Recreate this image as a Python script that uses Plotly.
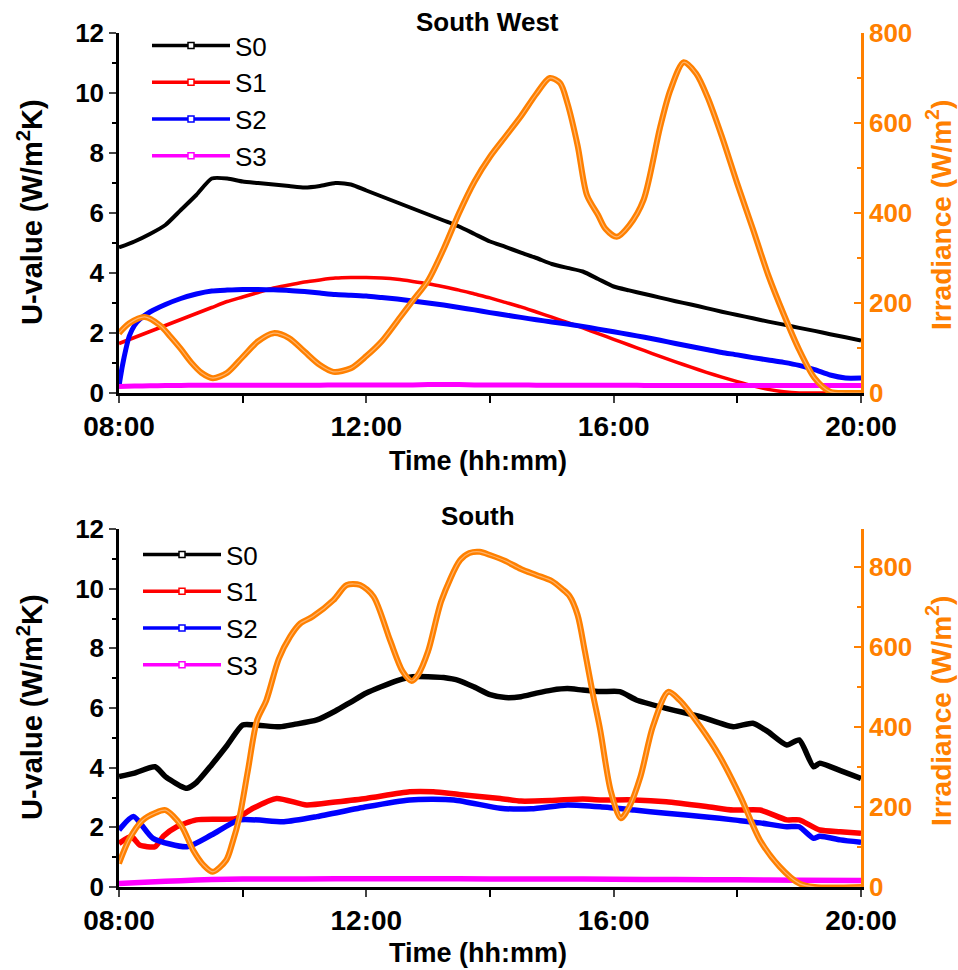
import plotly.graph_objects as go

FONT = "Liberation Sans"
ORANGE = "#FF8000"
COLORS = {"S0": "#000000", "S1": "#FF0000", "S2": "#0000FF", "S3": "#FF00FF"}

# regular 15-minute time grid, 08:00 .. 20:00
QUARTER = [f"{h:02d}:{m:02d}" for h in range(8, 20) for m in (0, 15, 30, 45)] + ["20:00"]

# ---------------- South West ----------------
sw_s0 = [4.85, 5.05, 5.3, 5.6, 6.1, 6.6, 7.15, 7.15, 7.05, 7.0, 6.95, 6.9, 6.85, 6.9, 7.0, 6.95,
         6.75, 6.55, 6.35, 6.15, 5.95, 5.75, 5.55, 5.3, 5.05, 4.87, 4.68, 4.5, 4.3, 4.17, 4.05, 3.8,
         3.55, 3.42, 3.3, 3.18, 3.06, 2.95, 2.83, 2.71, 2.6, 2.49, 2.38, 2.28, 2.17, 2.07, 1.96, 1.86, 1.75]
sw_s1 = [1.65, 1.85, 2.05, 2.25, 2.45, 2.65, 2.85, 3.05, 3.2, 3.35, 3.5, 3.6, 3.7, 3.77, 3.83, 3.85,
         3.85, 3.83, 3.79, 3.72, 3.64, 3.54, 3.43, 3.3, 3.17, 3.02, 2.87, 2.7, 2.53, 2.35, 2.17, 1.98,
         1.79, 1.6, 1.41, 1.22, 1.04, 0.86, 0.69, 0.53, 0.38, 0.24, 0.12, 0.04, 0.0, 0.0, 0.0, 0.0, 0.0]
sw_s2_t = ["08:00", "08:01", "08:05", "08:10", "08:15", "08:20", "08:30", "08:45", "09:00", "09:15",
           "09:30", "09:45", "10:00", "10:15", "10:30", "10:45", "11:00", "11:15", "11:30", "11:45",
           "12:00", "12:15", "12:30", "12:45", "13:00", "13:15", "13:30", "13:45", "14:00", "14:15",
           "14:30", "14:45", "15:00", "15:15", "15:30", "15:45", "16:00", "16:15", "16:30", "16:45",
           "17:00", "17:15", "17:30", "17:45", "18:00", "18:15", "18:30", "18:45", "19:00", "19:15",
           "19:30", "19:45", "20:00"]
sw_s2 = [0.2, 0.45, 1.2, 1.9, 2.25, 2.45, 2.7, 2.95, 3.15, 3.3,
         3.4, 3.43, 3.45, 3.45, 3.44, 3.42, 3.38, 3.33, 3.28, 3.26,
         3.23, 3.18, 3.13, 3.07, 3.0, 2.93, 2.85, 2.77, 2.68, 2.6,
         2.52, 2.44, 2.37, 2.3, 2.22, 2.13, 2.04, 1.95, 1.86, 1.76,
         1.65, 1.55, 1.45, 1.35, 1.27, 1.18, 1.1, 1.02, 0.92, 0.78,
         0.6, 0.5, 0.5]
sw_s3 = [0.22, 0.23, 0.24, 0.25, 0.25, 0.26, 0.26, 0.26, 0.26, 0.26, 0.26, 0.26, 0.26, 0.26, 0.27, 0.27,
         0.27, 0.27, 0.27, 0.27, 0.28, 0.28, 0.28, 0.27, 0.27, 0.27, 0.27, 0.26, 0.26, 0.26, 0.26, 0.26,
         0.26, 0.26, 0.25, 0.25, 0.25, 0.25, 0.25, 0.25, 0.25, 0.25, 0.25, 0.25, 0.25, 0.25, 0.25, 0.25, 0.25]
sw_irr_t = ["08:00", "08:10", "08:25", "08:40", "08:50", "09:00", "09:10", "09:20", "09:31", "09:45",
            "10:00", "10:15", "10:30", "10:45", "11:00", "11:15", "11:28", "11:45", "12:00", "12:15",
            "12:33", "12:45", "13:00", "13:15", "13:30", "13:45", "14:00", "14:15", "14:30", "14:45",
            "14:58", "15:08", "15:15", "15:25", "15:34", "15:45", "15:52", "16:03", "16:15", "16:29",
            "16:45", "16:55", "17:08", "17:20", "17:31", "17:45", "18:00", "18:15", "18:30", "18:45",
            "19:00", "19:15", "19:30", "19:45", "20:00"]
sw_irr = [133, 155, 169, 150, 125, 98, 68, 45, 33, 45,
          80, 115, 133, 122, 92, 62, 47, 55, 82, 115,
          169, 205, 250, 320, 400, 470, 525, 570, 615, 665,
          700, 689, 645, 550, 440, 395, 365, 347, 372, 429,
          590, 673, 735, 710, 658, 570, 465, 365, 262, 175,
          96, 33, 3, 0, 0]

# ---------------- South ----------------
s_s0_t = ["08:00", "08:15", "08:35", "08:45", "09:00", "09:06", "09:15", "09:30", "09:45", "10:00",
          "10:15", "10:36", "10:50", "11:12", "11:30", "11:45", "12:00", "12:15", "12:30", "12:45",
          "13:00", "13:15", "13:30", "13:45", "14:00", "14:15", "14:30", "14:45", "15:00", "15:15",
          "15:30", "15:47", "16:06", "16:22", "16:51", "17:24", "17:56", "18:15", "18:30", "18:48",
          "19:00", "19:14", "19:20", "19:40", "20:00"]
s_s0 = [3.70, 3.82, 4.03, 3.7, 3.38, 3.31, 3.5, 4.1, 4.75, 5.43,
        5.42, 5.37, 5.45, 5.6, 5.9, 6.2, 6.5, 6.72, 6.92, 7.05,
        7.05, 7.02, 6.92, 6.7, 6.45, 6.35, 6.38, 6.5, 6.6, 6.65,
        6.6, 6.55, 6.55, 6.27, 5.99, 5.71, 5.37, 5.49, 5.2, 4.76,
        4.93, 4.03, 4.15, 3.9, 3.64]
s_s1_t = ["08:00", "08:12", "08:20", "08:35", "08:43", "08:56", "09:15", "09:54", "10:10", "10:33",
          "11:02", "11:30", "12:00", "12:42", "13:05", "13:30", "14:10", "14:30", "15:00", "15:30",
          "15:47", "16:20", "16:51", "17:30", "17:56", "18:22", "18:48", "19:00", "19:20", "19:40",
          "20:00"]
s_s1 = [1.46, 1.69, 1.41, 1.35, 1.7, 2.02, 2.25, 2.3, 2.64, 2.97,
        2.75, 2.85, 2.97, 3.19, 3.19, 3.1, 2.97, 2.88, 2.9, 2.95,
        2.92, 2.92, 2.86, 2.7, 2.58, 2.58, 2.25, 2.25, 1.91, 1.85,
        1.80]
s_s2_t = ["08:00", "08:14", "08:33", "09:06", "09:30", "09:57", "10:40", "11:12", "12:00", "12:42",
          "13:25", "14:10", "14:40", "15:15", "15:47", "16:20", "16:51", "17:30", "17:56", "18:22",
          "18:48", "19:00", "19:14", "19:20", "19:40", "20:00"]
s_s2 = [1.91, 2.36, 1.63, 1.35, 1.75, 2.25, 2.19, 2.36, 2.69, 2.92,
        2.92, 2.64, 2.62, 2.75, 2.69, 2.58, 2.47, 2.35, 2.25, 2.15,
        2.02, 2.02, 1.63, 1.7, 1.58, 1.5]
s_s3_t = ["08:00", "08:30", "09:00", "09:30", "10:00", "11:00", "12:00", "13:00", "14:00", "15:00",
          "16:00", "17:00", "18:00", "19:00", "20:00"]
s_s3 = [0.12, 0.17, 0.21, 0.25, 0.27, 0.27, 0.28, 0.28, 0.27, 0.27,
        0.26, 0.25, 0.24, 0.23, 0.22]
s_irr_t = ["08:00", "08:10", "08:23", "08:35", "08:45", "09:00", "09:12", "09:22", "09:31", "09:44",
           "09:50", "09:57", "10:05", "10:14", "10:23", "10:35", "10:46", "10:56", "11:08", "11:28",
           "11:41", "11:54", "12:07", "12:23", "12:35", "12:44", "12:50", "13:00", "13:13", "13:31",
           "13:40", "13:50", "14:00", "14:15", "14:30", "14:45", "15:00", "15:10", "15:17", "15:25",
           "15:32", "15:40", "15:47", "15:57", "16:07", "16:15", "16:26", "16:38", "16:53", "17:04",
           "17:24", "17:43", "18:03", "18:22", "18:41", "19:00", "19:15", "20:00"]
s_irr = [59, 120, 167, 185, 192, 155, 92, 55, 38, 67,
         110, 176, 290, 417, 467, 570, 626, 659, 676, 717,
         755, 755, 726, 617, 540, 515, 530, 590, 717, 817,
         835, 838, 830, 815, 795, 780, 765, 745, 728, 680,
         590, 480, 392, 242, 172, 200, 276, 401, 488, 467,
         401, 326, 226, 117, 51, 9, 0, 0]

TIME_TICKS = [8, 12, 16, 20]
TIME_LABELS = ["08:00", "12:00", "16:00", "20:00"]


def hours(ts):
    return [int(t[:2]) + int(t[3:]) / 60 for t in ts]


W, H = 958, 970
def px_x(p):
    return p / W
def px_y(p):
    return 1 - p / H

fig = go.Figure()

panels = [
    dict(x="x", yl="y", yr="y2", legend="legend",
         series=[("S0", QUARTER, sw_s0, 4), ("S1", QUARTER, sw_s1, 3.5),
                 ("S2", sw_s2_t, sw_s2, 5), ("S3", QUARTER, sw_s3, 5)],
         irr=(sw_irr_t, sw_irr)),
    dict(x="x2", yl="y3", yr="y4", legend="legend2",
         series=[("S0", s_s0_t, s_s0, 5.5), ("S1", s_s1_t, s_s1, 5.5),
                 ("S2", s_s2_t, s_s2, 5.5), ("S3", s_s3_t, s_s3, 5.5)],
         irr=(s_irr_t, s_irr)),
]

for p in panels:
    for name, t, v, w in p["series"]:
        fig.add_trace(go.Scatter(
            x=hours(t), y=v, xaxis=p["x"], yaxis=p["yl"], mode="lines",
            line=dict(color=COLORS[name], width=w, shape="spline", smoothing=0.6),
            showlegend=False, hoverinfo="skip"))
    it, iv = p["irr"]
    fig.add_trace(go.Scatter(
        x=hours(it), y=iv, xaxis=p["x"], yaxis=p["yr"], mode="lines",
        line=dict(color=ORANGE, width=6, shape="spline", smoothing=0.8),
        showlegend=False, hoverinfo="skip"))
    fig.add_trace(go.Scatter(
        x=hours(it), y=iv, xaxis=p["x"], yaxis=p["yr"], mode="lines",
        line=dict(color="#FFB36B", width=1.2, shape="spline", smoothing=0.8),
        showlegend=False, hoverinfo="skip"))
    # legend entries: line with an open square marker
    for name, _, _, _ in p["series"]:
        fig.add_trace(go.Scatter(
            x=[None], y=[None], xaxis=p["x"], yaxis=p["yl"], name=name,
            mode="lines+markers", legend=p["legend"],
            line=dict(color=COLORS[name], width=3.5),
            marker=dict(symbol="square", size=6, color="white",
                        line=dict(color=COLORS[name], width=1.5))))

ytickfont = dict(family=FONT, size=26, color="black", weight="bold")
xtickfont = dict(family=FONT, size=28, color="black", weight="bold")
otickfont = dict(family=FONT, size=26, color=ORANGE, weight="bold")

def xaxis(anchor):
    return dict(domain=[px_x(119), px_x(861)], anchor=anchor, range=[8, 20],
                tickvals=TIME_TICKS, ticktext=TIME_LABELS, ticks="outside", ticklen=7,
                tickwidth=2, showline=True, linewidth=2.5, linecolor="black",
                showgrid=False, zeroline=False, tickfont=xtickfont, automargin=False,
                minor=dict(tickvals=[10, 14, 18], ticks="outside", ticklen=7, tickwidth=2,
                           tickcolor="black"))

def yleft(anchor, ytop, ybot):
    return dict(domain=[px_y(ybot), px_y(ytop)], anchor=anchor, range=[0, 12], dtick=2,
                ticks="outside", ticklen=7, tickwidth=2, showline=True, linewidth=2.5,
                linecolor="black", showgrid=False, zeroline=False, tickfont=ytickfont,
                automargin=False,
                minor=dict(dtick=1, ticks="outside", ticklen=4, tickwidth=2, tickcolor="black"))

def yright(anchor, overlay, top):
    return dict(overlaying=overlay, side="right", anchor=anchor, range=[0, top],
                tickvals=[0, 200, 400, 600, 800], ticks="inside", ticklen=7, tickwidth=2,
                tickcolor=ORANGE, showline=True, linewidth=2.5, linecolor=ORANGE,
                showgrid=False, zeroline=False, tickfont=otickfont, automargin=False,
                minor=dict(tickvals=[100, 300, 500, 700], ticks="inside", ticklen=4,
                           tickwidth=2, tickcolor=ORANGE))

TOP = (33, 393)
BOT = (529, 887)

legend_style = dict(xanchor="left", yanchor="top", bgcolor="rgba(0,0,0,0)",
                    font=dict(family=FONT, size=26, color="black"), itemwidth=78,
                    tracegroupgap=0)

fig.update_layout(
    width=W, height=H, margin=dict(l=0, r=0, t=0, b=0),
    paper_bgcolor="white", plot_bgcolor="white", template="none",
    xaxis=xaxis("y"), yaxis=yleft("x", *TOP), yaxis2=yright("x", "y", 800),
    xaxis2=xaxis("y3"), yaxis3=yleft("x2", *BOT), yaxis4=yright("x2", "y3", 895),
    legend=dict(x=px_x(147), y=px_y(22), **legend_style),
    legend2=dict(x=px_x(138), y=px_y(531), **legend_style),
)

def ann(text, x, y, size, color="black", angle=0):
    fig.add_annotation(text=text, x=px_x(x), y=px_y(y), xref="paper", yref="paper",
                       showarrow=False, textangle=angle, xanchor="center", yanchor="middle",
                       font=dict(family=FONT, size=size, color=color, weight="bold"))

ann("South West", 487, 22, 26)
ann("South", 478, 516, 26)
ann("Time (hh:mm)", 478, 461, 27)
ann("Time (hh:mm)", 478, 953, 27)
ann("U-value (W/m<sup>2</sup>K)", 30, 212, 29, angle=-90)
ann("U-value (W/m<sup>2</sup>K)", 30, 707, 29, angle=-90)
ann("Irradiance (W/m<sup>2</sup>)", 939, 215, 28, ORANGE, angle=-90)
ann("Irradiance (W/m<sup>2</sup>)", 939, 711, 28, ORANGE, angle=-90)

fig.write_html("out.html")
